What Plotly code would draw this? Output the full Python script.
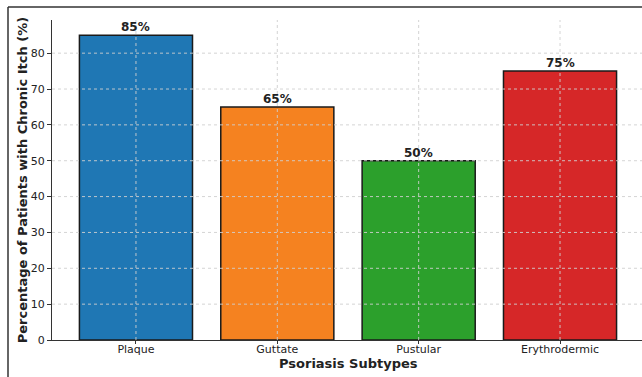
import plotly.graph_objects as go

categories = ["Plaque", "Guttate", "Pustular", "Erythrodermic"]
values = [85, 65, 50, 75]
colors = ["#1f77b4", "#f58220", "#2ca02c", "#d62728"]
y_ticks = [0, 10, 20, 30, 40, 50, 60, 70, 80]

W, H = 642, 377
ml, mr, mt, mb = 52, 0, 20, 37
pw, ph = W - ml - mr, H - mt - mb

fig = go.Figure()
fig.add_trace(go.Bar(
    x=list(range(len(categories))), y=values,
    marker=dict(color=colors, line=dict(color="#1a1a1a", width=1.5)),
    width=0.8,
    showlegend=False,
))
for i, v in enumerate(values):
    fig.add_annotation(x=i, y=v, text=f"<b>{v}%</b>", showarrow=False,
                       yanchor="bottom", yshift=-1,
                       font=dict(family="DejaVu Sans", size=12, color="#222"))

# x-axis title placed just below tick labels
fig.add_annotation(xref="paper", yref="paper", x=(348 - ml) / pw,
                   y=-(363 - (H - mb)) / ph, yanchor="middle", xanchor="center",
                   text="<b>Psoriasis Subtypes</b>", showarrow=False,
                   font=dict(family="DejaVu Sans", size=13, color="#222"))

shapes = []
for t in y_ticks[1:]:
    shapes.append(dict(type="line", xref="paper", yref="y", x0=0, x1=1, y0=t, y1=t,
                       line=dict(color="#cfcfcf", width=0.9, dash="dot"), layer="above"))
for i in range(len(categories)):
    shapes.append(dict(type="line", xref="x", yref="paper", x0=i, x1=i, y0=0, y1=1,
                       line=dict(color="#cfcfcf", width=0.9, dash="dot"), layer="above"))
# page frame (top and left border)
fx = (8 - ml) / pw
fy = 1 + (mt - 7) / ph
fyb = -(mb) / ph
shapes.append(dict(type="line", xref="paper", yref="paper", x0=fx, x1=1.01, y0=fy, y1=fy,
                   line=dict(color="#333", width=1.5)))
shapes.append(dict(type="line", xref="paper", yref="paper", x0=fx, x1=fx, y0=fy, y1=fyb - 0.01,
                   line=dict(color="#333", width=1.5)))

fig.update_layout(
    width=W, height=H,
    margin=dict(l=ml, r=mr, t=mt, b=mb),
    paper_bgcolor="white", plot_bgcolor="white",
    showlegend=False,
    shapes=shapes,
    font=dict(family="DejaVu Sans", size=11, color="#222"),
    xaxis=dict(
        tickmode="array", tickvals=list(range(len(categories))), ticktext=categories,
        range=[-0.594, 3.58], showgrid=False, zeroline=False,
        showline=True, linecolor="#333", linewidth=1.3,
        ticks="outside", ticklen=3, tickcolor="#333",
        ticklabelstandoff=-4,
        tickfont=dict(size=11),
    ),
    yaxis=dict(
        range=[0, 89.25], tickvals=y_ticks, showgrid=False, zeroline=False,
        showline=True, linecolor="#333", linewidth=1.3,
        ticks="outside", ticklen=4, tickcolor="#333",
        tickfont=dict(size=11),
        title=dict(text="<b>Percentage of Patients with Chronic Itch (%)</b>", font=dict(size=13), standoff=0),
    ),
)

fig.write_html("out.html")
